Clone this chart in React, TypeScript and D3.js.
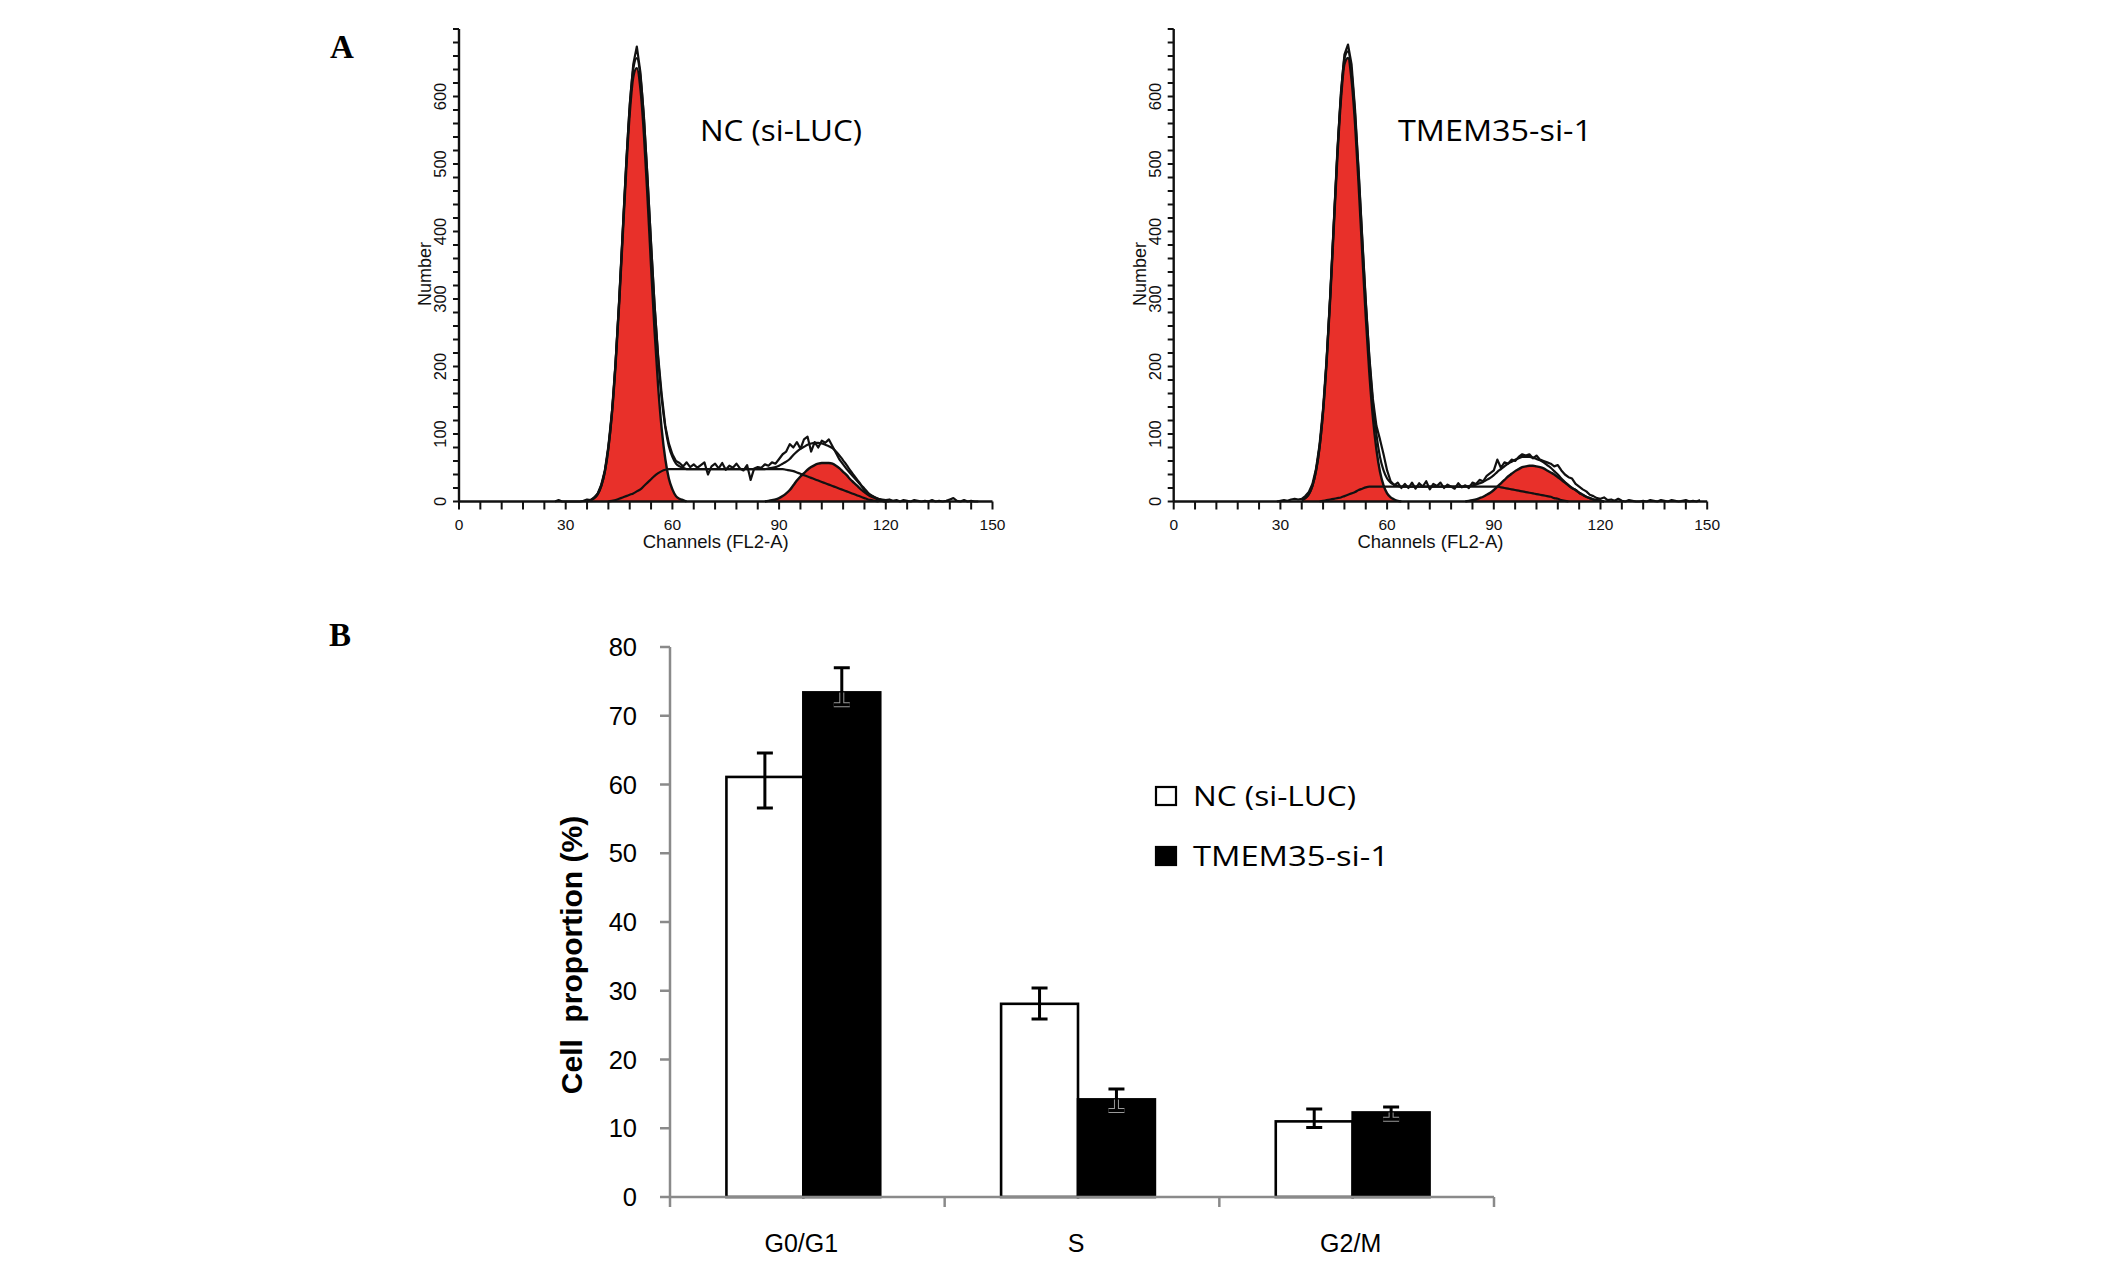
import { useEffect, useRef } from "react";
import * as d3 from "d3";

const W = 2126, H = 1261;
const RED = "#e8302a";
const AXIS_GRAY = "#8a8a8a";
const SANS = "'Liberation Sans', Arial, sans-serif";
const CAL = "'Open Sans', 'Noto Sans', sans-serif";
const SERIF = "'Liberation Serif', 'Times New Roman', serif";

// ---------- Panel A: DNA content histograms (count per channel) ----------
const ncTitle = "NC (si-LUC)";
const tmTitle = "TMEM35-si-1";

const ncRawStart = 27;
const ncRaw = [
  0, 2, 0, 0, 0, 0, 0, 0, 1, 3,
  2, 6, 12, 25, 46, 82, 133, 205, 296, 398,
  500, 588, 648, 674, 636, 570, 480, 382, 290, 215,
  158, 112, 86, 70, 60, 57, 52, 58, 51, 55,
  50, 54, 58, 40, 52, 56, 49, 57, 47, 53,
  50, 56, 49, 46, 54, 32, 49, 51, 50, 55,
  53, 58, 56, 63, 70, 74, 85, 80, 88, 78,
  92, 96, 74, 88, 80, 90, 87, 92, 82, 72,
  62, 55, 48, 42, 36, 30, 24, 17, 12, 8,
  6, 4, 3, 2, 3, 1, 2, 0, 2, 1,
  0, 2, 1, 0, 1, 0, 2, 0, 1, 0,
  1, 3, 5, 1, 0, 2, 0, 1, 0, 0,
];
const ncG1Start = 37;
const ncG1 = [2, 5, 11, 23, 44, 79, 130, 201, 290, 390, 490, 575, 629, 642, 612, 544, 451, 349, 252, 170, 107, 63, 34, 18, 8, 4, 2, 0];
const ncSStart = 42;
const ncS = [
  0, 1, 2, 4, 6, 8, 10, 12, 15, 18, 23, 28, 33, 38, 42, 45, 47, 48,
  48, 48, 48, 48, 48, 48, 48, 48, 48, 48, 48, 48, 48, 48, 48, 48,
  48, 48, 48, 48, 48, 48, 48, 48, 48, 48, 48, 48, 48, 48, 48, 48,
  47, 46, 45, 43, 41, 39, 37, 35, 33, 31, 29, 27, 25, 23, 21, 19, 17, 15, 13, 11, 9, 7, 5, 3, 2, 1, 0,
];
const ncG2Start = 86;
const ncG2 = [0, 1, 2, 3, 5, 8, 12, 17, 24, 31, 37, 42, 47, 51, 54, 56, 57, 57, 57, 56, 53, 49, 44, 39, 33, 28, 23, 18, 14, 10, 7, 5, 3, 1, 0];

const tmRawStart = 29;
const tmRaw = [
  0, 1, 2, 1, 3, 4, 3, 4, 8, 14,
  26, 48, 84, 138, 212, 306, 412, 518, 605, 662,
  677, 648, 580, 490, 392, 298, 215, 152, 112, 92,
  70, 46, 30, 24, 28, 20, 26, 20, 28, 19,
  27, 22, 30, 18, 26, 23, 28, 20, 25, 22,
  19, 27, 21, 24, 20, 28, 26, 32, 30, 38,
  42, 46, 62, 50, 58, 56, 62, 60, 66, 70,
  68, 70, 64, 68, 62, 60, 58, 56, 52, 54,
  46, 40, 36, 34, 26, 22, 18, 15, 10, 8,
  5, 4, 6, 2, 3, 1, 4, 1, 0, 2,
  1, 0, 0, 1, 0, 2, 1, 0, 2, 1,
  0, 2, 1, 0, 1, 2, 0, 1, 0, 2,
];
const tmG1Start = 36;
const tmG1 = [2, 5, 11, 23, 45, 80, 133, 207, 300, 405, 509, 594, 648, 657, 625, 559, 469, 370, 274, 191, 125, 77, 44, 24, 12, 6, 3, 1, 0];
const tmSStart = 41;
const tmS = [
  0, 1, 2, 3, 4, 5, 6, 8, 10, 12, 14, 17, 19, 21, 22,
  22, 22, 22, 22, 22, 22, 22, 22, 22, 22, 22, 22, 22, 22, 22, 22, 22, 22,
  22, 22, 22, 22, 22, 22, 22, 22, 22, 22, 22, 22, 22, 22, 22, 22, 22, 22,
  21, 20, 19, 18, 17, 16, 15, 14, 13, 12, 11, 10, 9, 8, 7, 5, 4, 2, 1, 0,
];
const tmG2Start = 82;
const tmG2 = [0, 1, 2, 3, 5, 7, 10, 13, 17, 22, 27, 32, 37, 41, 45, 48, 51, 52, 53, 53, 52, 51, 49, 46, 43, 40, 36, 32, 28, 24, 20, 17, 13, 10, 7, 5, 3, 2, 1, 0];

const xTicksHist = d3.range(0, 151, 6);
const xLabelsHist = [0, 30, 60, 90, 120, 150];
const yTicksHist = d3.range(0, 701, 20);
const yLabelsHist = [0, 100, 200, 300, 400, 500, 600];

// ---------- Panel B: cell cycle distribution (%) ----------
const phases = ["G0/G1", "S", "G2/M"];
const groups = ["NC (si-LUC)", "TMEM35-si-1"];
const ncMean = [61.1, 28.1, 11.0];
const ncLow = [56.6, 25.9, 10.1];
const ncHigh = [64.6, 30.4, 12.8];
const tmMean = [73.4, 14.2, 12.3];
const tmLow = [71.6, 12.6, 11.3];
const tmHigh = [77.0, 15.7, 13.1];
const barTicks = d3.range(0, 81, 10);

type Comp = { start: number; vals: number[] };

export default function App() {
  const ref = useRef<SVGSVGElement>(null);

  useEffect(() => {
    if (!ref.current) return;
    const svg = d3.select(ref.current);
    svg.selectAll("*").remove();
    svg.append("rect").attr("width", W).attr("height", H).attr("fill", "white");

    // panel letters
    svg.append("text").attr("x", 330).attr("y", 58).attr("font-family", SERIF)
      .attr("font-weight", 700).attr("font-size", 33).text("A");
    svg.append("text").attr("x", 329).attr("y", 646).attr("font-family", SERIF)
      .attr("font-weight", 700).attr("font-size", 33).text("B");

    // ---------------- histograms ----------------
    const panels = [
      { title: ncTitle, titleX: 700, raw: { start: ncRawStart, vals: ncRaw },
        g1: { start: ncG1Start, vals: ncG1 }, s: { start: ncSStart, vals: ncS }, g2: { start: ncG2Start, vals: ncG2 } },
      { title: tmTitle, titleX: 1398, raw: { start: tmRawStart, vals: tmRaw },
        g1: { start: tmG1Start, vals: tmG1 }, s: { start: tmSStart, vals: tmS }, g2: { start: tmG2Start, vals: tmG2 } },
    ];
    const axisX = [459, 1173.7];
    const HW = 533.5;

    panels.forEach((p, k) => {
      const x0 = axisX[k];
      const x = d3.scaleLinear().domain([0, 150]).range([x0, x0 + HW]);
      const y = d3.scaleLinear().domain([0, 700]).range([501.5, 29]);
      const g = svg.append("g");
      const pts = (c: Comp) => c.vals.map((v, i) => [c.start + i, v] as [number, number]);
      const valAt = (c: Comp, ch: number) =>
        ch >= c.start && ch < c.start + c.vals.length ? c.vals[ch - c.start] : 0;

      const smooth = d3.line<[number, number]>().x(d => x(d[0])).y(d => y(d[1])).curve(d3.curveMonotoneX);
      const jag = d3.line<[number, number]>().x(d => x(d[0])).y(d => y(d[1]));
      const area = d3.area<[number, number]>().x(d => x(d[0])).y0(y(0)).y1(d => y(d[1])).curve(d3.curveMonotoneX);

      // red G1 / G2 peaks
      [p.g1, p.g2].forEach(c => {
        g.append("path").attr("d", area(pts(c))!).attr("fill", RED);
        g.append("path").attr("d", smooth(pts(c))!).attr("fill", "none")
          .attr("stroke", "#111").attr("stroke-width", 2.4);
      });
      // S phase component
      g.append("path").attr("d", smooth(pts(p.s))!).attr("fill", "none")
        .attr("stroke", "#111").attr("stroke-width", 2.2);
      // total fit
      const fit = d3.range(36, 122).map(ch =>
        [ch, valAt(p.g1, ch) + valAt(p.s, ch) + valAt(p.g2, ch)] as [number, number]);
      g.append("path").attr("d", smooth(fit)!).attr("fill", "none")
        .attr("stroke", "#111").attr("stroke-width", 2.2);
      // raw histogram
      g.append("path").attr("d", jag(pts(p.raw))!).attr("fill", "none")
        .attr("stroke", "#111").attr("stroke-width", 2.2).attr("stroke-linejoin", "round");

      // axes
      g.append("line").attr("x1", x(0)).attr("x2", x(150)).attr("y1", y(0)).attr("y2", y(0))
        .attr("stroke", "#111").attr("stroke-width", 2.4);
      g.append("line").attr("x1", x0).attr("x2", x0).attr("y1", y(700)).attr("y2", y(0))
        .attr("stroke", "#111").attr("stroke-width", 2.4);
      xTicksHist.forEach(t => {
        g.append("line").attr("x1", x(t)).attr("x2", x(t)).attr("y1", y(0)).attr("y2", y(0) + 8)
          .attr("stroke", "#111").attr("stroke-width", 2);
      });
      xLabelsHist.forEach(t => {
        g.append("text").attr("x", x(t)).attr("y", 530).attr("text-anchor", "middle")
          .attr("font-family", SANS).attr("font-size", 15.5).attr("fill", "#111").text(t);
      });
      yTicksHist.forEach(t => {
        g.append("line").attr("x1", x0 - 6).attr("x2", x0).attr("y1", y(t)).attr("y2", y(t))
          .attr("stroke", "#111").attr("stroke-width", 2);
      });
      yLabelsHist.forEach(t => {
        g.append("text").attr("transform", `translate(${x0 - 13},${y(t)})rotate(-90)`)
          .attr("text-anchor", "middle").attr("font-family", SANS).attr("font-size", 16.5)
          .attr("fill", "#111").text(t);
      });
      g.append("text").attr("transform", `translate(${x0 - 28},274)rotate(-90)`)
        .attr("text-anchor", "middle").attr("font-family", SANS).attr("font-size", 18)
        .attr("fill", "#111").text("Number");
      g.append("text").attr("x", x0 + HW / 2 - 10).attr("y", 548).attr("text-anchor", "middle")
        .attr("font-family", SANS).attr("font-size", 18.5).attr("fill", "#111").text("Channels (FL2-A)");

      const tl = p.title === ncTitle ? 162 : 194;
      g.append("text").attr("x", p.titleX).attr("y", 141).attr("font-family", CAL)
        .attr("font-size", 29).attr("fill", "#000")
        .attr("textLength", tl).attr("lengthAdjust", "spacingAndGlyphs").text(p.title);
    });

    // ---------------- bar chart ----------------
    const bx = d3.scaleBand<string>().domain(phases).range([670, 1494]);
    const sub = d3.scaleBand<string>().domain(groups)
      .range([bx.bandwidth() * 0.22 - 4, bx.bandwidth() * 0.78 - 4]);
    const by = d3.scaleLinear().domain([0, 80]).range([1197, 647]);
    const bg = svg.append("g");

    const series = [
      { name: groups[0], mean: ncMean, low: ncLow, high: ncHigh, fill: "#fff" },
      { name: groups[1], mean: tmMean, low: tmLow, high: tmHigh, fill: "#000" },
    ];

    series.forEach(s => {
      phases.forEach((ph, i) => {
        const xl = bx(ph)! + sub(s.name)!;
        bg.append("rect").attr("x", xl).attr("y", by(s.mean[i]))
          .attr("width", sub.bandwidth()).attr("height", by(0) - by(s.mean[i]))
          .attr("fill", s.fill).attr("stroke", "#000").attr("stroke-width", 2.6);
      });
    });

    // error bars
    series.forEach(s => {
      phases.forEach((ph, i) => {
        const cx = bx(ph)! + sub(s.name)! + sub.bandwidth() / 2;
        const yl = by(s.low[i]), yh = by(s.high[i]), ym = by(s.mean[i]);
        if (s.fill === "#000") {
          // lower half sits inside the black bar: faint outline
          bg.append("path").attr("d", `M${cx},${ym}V${yl}M${cx - 8},${yl}H${cx + 8}`)
            .attr("fill", "none").attr("stroke", "#9a9a9a").attr("stroke-width", 5);
        }
        bg.append("path")
          .attr("d", `M${cx},${yl}V${yh}M${cx - 8},${yh}H${cx + 8}M${cx - 8},${yl}H${cx + 8}`)
          .attr("fill", "none").attr("stroke", "#000").attr("stroke-width", 3);
      });
    });

    // y axis
    bg.append("line").attr("x1", 670).attr("x2", 670).attr("y1", by(80)).attr("y2", by(0))
      .attr("stroke", AXIS_GRAY).attr("stroke-width", 2.5);
    barTicks.forEach(t => {
      bg.append("line").attr("x1", 660).attr("x2", 670).attr("y1", by(t)).attr("y2", by(t))
        .attr("stroke", AXIS_GRAY).attr("stroke-width", 2.5);
      bg.append("text").attr("x", 637).attr("y", by(t) + 9).attr("text-anchor", "end")
        .attr("font-family", SANS).attr("font-size", 25.5).attr("fill", "#000").text(t);
    });
    // x axis
    bg.append("line").attr("x1", 670).attr("x2", 1494).attr("y1", by(0)).attr("y2", by(0))
      .attr("stroke", AXIS_GRAY).attr("stroke-width", 2.5);
    [...phases.map(p => bx(p)!), 1494].forEach(xv => {
      bg.append("line").attr("x1", xv).attr("x2", xv).attr("y1", by(0)).attr("y2", by(0) + 10)
        .attr("stroke", AXIS_GRAY).attr("stroke-width", 2.5);
    });
    phases.forEach(ph => {
      bg.append("text").attr("x", bx(ph)! + bx.bandwidth() / 2 - 6).attr("y", 1252)
        .attr("text-anchor", "middle").attr("font-family", SANS).attr("font-size", 25)
        .attr("fill", "#000").text(ph);
    });
    bg.append("text").attr("transform", "translate(582,955)rotate(-90)")
      .attr("text-anchor", "middle").attr("font-family", SANS).attr("font-weight", 700)
      .attr("font-size", 30).attr("fill", "#000").attr("xml:space", "preserve")
      .style("white-space", "pre").text("Cell  proportion (%)");

    // legend
    series.forEach((s, i) => {
      const cy = 796 + i * 60;
      bg.append("rect").attr("x", 1156).attr("y", cy - 9).attr("width", 20).attr("height", 18)
        .attr("fill", s.fill).attr("stroke", "#000").attr("stroke-width", 2.2);
      bg.append("text").attr("x", 1193).attr("y", cy + 10).attr("font-family", CAL)
        .attr("font-size", 28).attr("fill", "#000")
        .attr("textLength", i === 0 ? 163 : 196).attr("lengthAdjust", "spacingAndGlyphs")
        .text(s.name);
    });
  }, []);

  return (
    <svg ref={ref} width={W} height={H}
      style={{ position: "absolute", left: 0, top: 0, display: "block", background: "white" }} />
  );
}
